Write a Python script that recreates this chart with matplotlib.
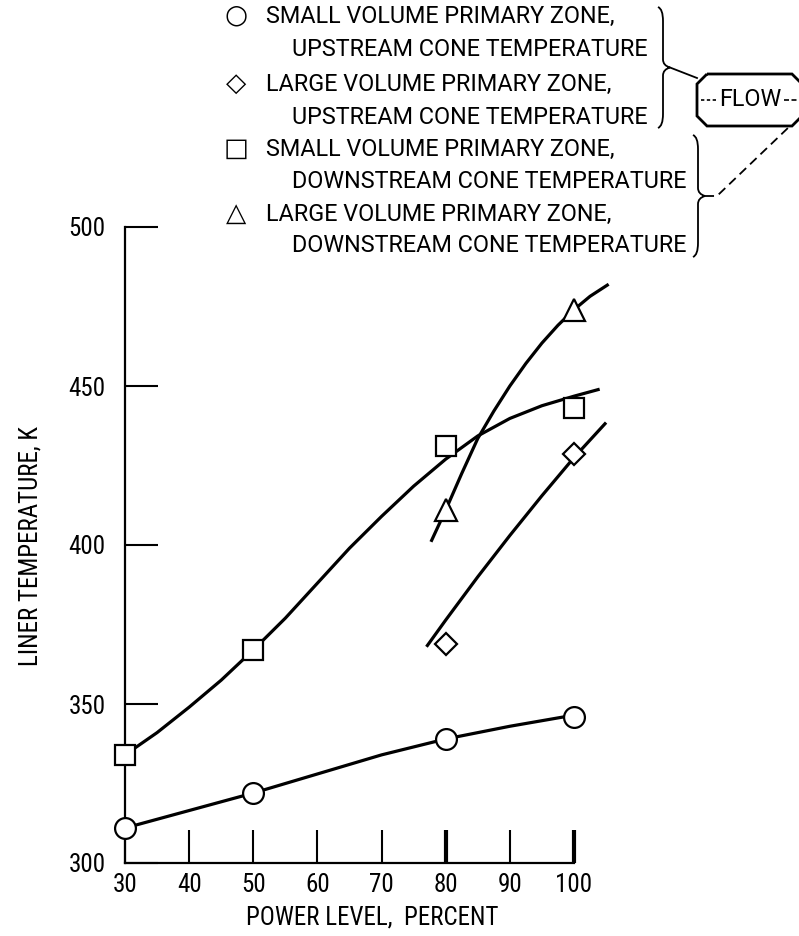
import matplotlib
matplotlib.use("Agg")
import matplotlib.pyplot as plt
from matplotlib.path import Path
from matplotlib.patches import PathPatch, Polygon
from matplotlib.lines import Line2D

plt.rcParams["font.family"] = ["Roboto Condensed", "Liberation Sans", "DejaVu Sans"]

W, H = 799, 936

# measured points
circle_x = [30, 50, 80, 100]
circle_T = [311, 322, 339, 346]
square_x = [30, 50, 80, 100]
square_T = [334, 367, 431, 443]
diamond_x = [80, 100]
diamond_T = [369, 428.5]
triangle_x = [80, 100]
triangle_T = [411, 474]

# faired curves
circle_fit_x = [30, 40, 50, 60, 70, 80, 90, 100]
circle_fit_T = [311, 316.5, 322, 328, 334, 339, 343, 346.5]
square_fit_x = [30, 35, 40, 45, 50, 55, 60, 65, 70, 75, 80, 85, 90, 95, 100, 104]
square_fit_T = [334, 341, 349, 357.5, 367, 377, 388, 399, 409, 418.5, 427, 434.3, 439.8, 443.8, 446.8, 449]
diamond_fit_x = [77, 80, 85, 90, 95, 100, 105]
diamond_fit_T = [368, 376.4, 390, 403, 415.5, 427.5, 438.5]
triangle_fit_x = [77.7, 80, 82.5, 85, 87.5, 90, 92.5, 95, 97.5, 100, 102.5, 105.4]
triangle_fit_T = [401, 411, 422.5, 433.5, 442.1, 450, 457.1, 463.5, 469.1, 474, 478.2, 482]

x_ticks = [30, 40, 50, 60, 70, 80, 90, 100]
y_ticks = [300, 350, 400, 450, 500]

legend_rows = [
    ("○", "SMALL VOLUME PRIMARY ZONE,"),
    (None, "UPSTREAM CONE TEMPERATURE"),
    ("◇", "LARGE VOLUME PRIMARY ZONE,"),
    (None, "UPSTREAM CONE TEMPERATURE"),
    ("□", "SMALL VOLUME PRIMARY ZONE,"),
    (None, "DOWNSTREAM CONE TEMPERATURE"),
    ("△", "LARGE VOLUME PRIMARY ZONE,"),
    (None, "DOWNSTREAM CONE TEMPERATURE"),
]


def fx(x):
    return x / W


def fy(y):
    return 1 - y / H


fig = plt.figure(figsize=(W / 100, H / 100), dpi=100)
ax = fig.add_axes([fx(125), fy(863), (574 - 125) / W, (863 - 227) / H])
ax.set_xlim(30, 100)
ax.set_ylim(300, 500)

lw = 2.3
mk = dict(color="black", markerfacecolor="white", markeredgecolor="black",
          markeredgewidth=1.6, linestyle="none", clip_on=False, zorder=5)
for xs, ts in [(circle_fit_x, circle_fit_T), (square_fit_x, square_fit_T),
               (diamond_fit_x, diamond_fit_T), (triangle_fit_x, triangle_fit_T)]:
    ax.plot(xs, ts, color="black", lw=lw, clip_on=False, solid_capstyle="butt",
            solid_joinstyle="round")

ax.plot(circle_x, circle_T, marker="o", markersize=15, **mk)
ax.plot(square_x, square_T, marker="s", markersize=14, **mk)
ax.plot(diamond_x, diamond_T, marker="D", markersize=11, **mk)
ax.plot(triangle_x, triangle_T, marker="^", markersize=16, **mk)

for s in ["top", "right"]:
    ax.spines[s].set_visible(False)
for s in ["left", "bottom"]:
    ax.spines[s].set_linewidth(1.6)

ax.set_xticks(x_ticks)
ax.set_yticks(y_ticks)
ax.tick_params(axis="both", direction="in", length=24, width=1.5, labelsize=18)
ax.tick_params(axis="x", pad=7)
ax.tick_params(axis="y", pad=14)
for i, t in enumerate(ax.xaxis.get_major_ticks()):
    if x_ticks[i] in (80, 100):
        t.tick1line.set_markeredgewidth(3)

fig.text(fx(372), fy(918), "POWER LEVEL,  PERCENT", ha="center", va="center", fontsize=18)
fig.text(fx(31), fy(546), "LINER TEMPERATURE, K", ha="center", va="center",
         rotation=90, fontsize=18)

# legend block
row_y = [16, 50, 84, 117, 149, 182, 214, 246]
leg_font = ["Roboto", "DejaVu Sans"]
for (sym, label), y in zip(legend_rows, row_y):
    if sym is not None:
        fig.text(fx(236), fy(y), sym, ha="center", va="center", fontsize=19,
                 family="DejaVu Sans")
        fig.text(fx(266), fy(y), label, ha="left", va="center", fontsize=16.8,
                 family=leg_font)
    else:
        fig.text(fx(292), fy(y), label, ha="left", va="center", fontsize=16.8,
                 family=leg_font)


def brace(x0, top, bot):
    mid = (top + bot) / 2
    pts = [(x0 - 5, top), (x0, top + 2), (x0, top + 14),
           (x0, mid - 8),
           (x0, mid - 2), (x0 + 7, mid),
           (x0, mid + 2), (x0, mid + 8),
           (x0, bot - 14),
           (x0, bot - 2), (x0 - 5, bot)]
    codes = [Path.MOVETO, Path.CURVE3, Path.CURVE3,
             Path.LINETO,
             Path.CURVE3, Path.CURVE3,
             Path.CURVE3, Path.CURVE3,
             Path.LINETO,
             Path.CURVE3, Path.CURVE3]
    verts = [(fx(a), fy(b)) for a, b in pts]
    fig.add_artist(PathPatch(Path(verts, codes), facecolor="none",
                             edgecolor="black", lw=1.3, transform=fig.transFigure))
    return x0 + 7, mid


b1 = brace(663, 7, 128)
b2 = brace(698, 135, 257)

box = [(707, 74), (792, 74), (802, 84), (802, 116), (792, 126),
       (707, 126), (697, 116), (697, 84)]
fig.add_artist(Polygon([(fx(a), fy(b)) for a, b in box], closed=True,
                       facecolor="none", edgecolor="black", lw=2.0,
                       transform=fig.transFigure))
fig.text(fx(750), fy(100), "FLOW", ha="center", va="center", fontsize=16.8,
         family=leg_font)
fig.add_artist(Line2D([fx(701), fx(716)], [fy(100), fy(100)], color="black",
                      lw=1.2, ls=(0, (2, 1.5)), transform=fig.transFigure))
fig.add_artist(Line2D([fx(784), fx(797)], [fy(100), fy(100)], color="black",
                      lw=1.2, ls=(0, (3, 1.5)), transform=fig.transFigure))
fig.add_artist(Line2D([fx(b1[0]), fx(697)], [fy(b1[1]), fy(78)], color="black",
                      lw=1.3, transform=fig.transFigure))
fig.add_artist(Line2D([fx(b2[0]), fx(717), fx(790)], [fy(b2[1]), fy(196), fy(126)],
                      color="black", lw=1.3, ls=(0, (5, 3)), transform=fig.transFigure))

fig.savefig("out.png", dpi=100)
